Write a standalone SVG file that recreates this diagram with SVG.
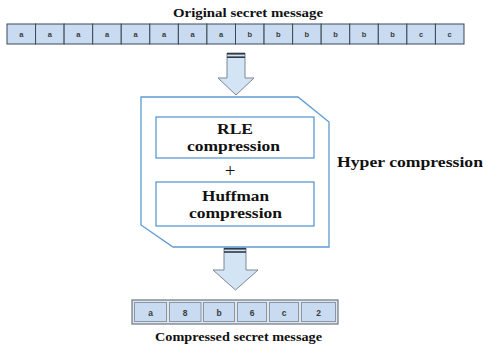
<svg xmlns="http://www.w3.org/2000/svg" width="483" height="347" viewBox="0 0 483 347">
  <style>
    .title { font-family: "Liberation Serif", "Times New Roman", serif; font-weight: bold; fill: #111; }
    .cell { fill: #c8dbf0; stroke: #3d4856; stroke-width: 1; }
    .cell2 { fill: #c8dbf0; stroke: #8a96a3; stroke-width: 1; }
    .ctext { font-family: "Liberation Sans", Arial, sans-serif; font-weight: bold; font-size: 7.5px; fill: #3a3a3a; text-anchor: middle; }
    .ctext2 { font-family: "Liberation Sans", Arial, sans-serif; font-weight: bold; font-size: 8.5px; fill: #3a3a3a; text-anchor: middle; }
    .box { fill: #fff; stroke: #5d9ad3; stroke-width: 1.3; }
    .btext { font-family: "Liberation Serif", "Times New Roman", serif; font-weight: bold; font-size: 14px; fill: #111; text-anchor: middle; }
    .plus { font-family: "Liberation Serif", "Times New Roman", serif; font-size: 19px; fill: #111; text-anchor: middle; }
    .arrow { fill: #d3e4f5; stroke: #7d8895; stroke-width: 1; }
    .band { fill: #2f3a45; }
  </style>

  <rect width="483" height="347" fill="#ffffff"/>

  <!-- input message -->
  <g id="original-message">
    <text class="title" x="248" y="17" font-size="12.5" text-anchor="middle" textLength="150" lengthAdjust="spacingAndGlyphs">Original secret message</text>
    <g id="original-cells">
      <rect class="cell" x="7" y="24" width="28.56" height="20"/>
      <rect class="cell" x="35.56" y="24" width="28.56" height="20"/>
      <rect class="cell" x="64.12" y="24" width="28.56" height="20"/>
      <rect class="cell" x="92.68" y="24" width="28.56" height="20"/>
      <rect class="cell" x="121.25" y="24" width="28.56" height="20"/>
      <rect class="cell" x="149.81" y="24" width="28.56" height="20"/>
      <rect class="cell" x="178.37" y="24" width="28.56" height="20"/>
      <rect class="cell" x="206.93" y="24" width="28.56" height="20"/>
      <rect class="cell" x="235.5" y="24" width="28.56" height="20"/>
      <rect class="cell" x="264.06" y="24" width="28.56" height="20"/>
      <rect class="cell" x="292.62" y="24" width="28.56" height="20"/>
      <rect class="cell" x="321.18" y="24" width="28.56" height="20"/>
      <rect class="cell" x="349.75" y="24" width="28.56" height="20"/>
      <rect class="cell" x="378.31" y="24" width="28.56" height="20"/>
      <rect class="cell" x="406.87" y="24" width="28.56" height="20"/>
      <rect class="cell" x="435.43" y="24" width="28.56" height="20"/>
      <text class="ctext" x="21.3" y="37">a</text>
      <text class="ctext" x="49.8" y="37">a</text>
      <text class="ctext" x="78.4" y="37">a</text>
      <text class="ctext" x="107" y="37">a</text>
      <text class="ctext" x="135.5" y="37">a</text>
      <text class="ctext" x="164.1" y="37">a</text>
      <text class="ctext" x="192.7" y="37">a</text>
      <text class="ctext" x="221.2" y="37">a</text>
      <text class="ctext" x="249.8" y="37">b</text>
      <text class="ctext" x="278.3" y="37">b</text>
      <text class="ctext" x="306.9" y="37">b</text>
      <text class="ctext" x="335.5" y="37">b</text>
      <text class="ctext" x="364" y="37">b</text>
      <text class="ctext" x="392.6" y="37">b</text>
      <text class="ctext" x="421.2" y="37">c</text>
      <text class="ctext" x="449.7" y="37">c</text>
    </g>
  </g>

  <!-- block arrows -->
  <g id="connectors">
    <path class="arrow" d="M227 53 H245 V78 H254 L236 95 L218 78 H227 Z"/>
    <rect class="band" x="227" y="53" width="18" height="1.6"/>
    <rect class="band" x="227" y="56.4" width="18" height="1.6"/>
    <path class="arrow" d="M224 248 H246 V270 H258 L235.5 290 L213 270 H224 Z"/>
    <rect class="band" x="224" y="248" width="22" height="1.6"/>
    <rect class="band" x="224" y="251.2" width="22" height="1.6"/>
  </g>

  <!-- compression stage -->
  <g id="hyper-compression">
    <polygon class="box" points="141,97 298,97 329,122 329,247 173,247 141,225"/>
    <text class="title" x="337" y="167" font-size="15" textLength="146" lengthAdjust="spacingAndGlyphs">Hyper compression</text>
  </g>

  <g id="rle">
    <rect class="box" x="156" y="117" width="158" height="41"/>
    <text class="btext" x="235" y="133.5" textLength="36" lengthAdjust="spacingAndGlyphs">RLE</text>
    <text class="btext" x="233.5" y="150.5" textLength="93" lengthAdjust="spacingAndGlyphs">compression</text>
  </g>

  <text class="plus" x="230" y="176.5">+</text>

  <g id="huffman">
    <rect class="box" x="156" y="182" width="158" height="44"/>
    <text class="btext" x="235.5" y="200.5" textLength="67" lengthAdjust="spacingAndGlyphs">Huffman</text>
    <text class="btext" x="235.5" y="217.5" textLength="93" lengthAdjust="spacingAndGlyphs">compression</text>
  </g>

  <!-- output message -->
  <g id="compressed-message">
    <rect x="132" y="300" width="206" height="24" fill="#dfe6ee" stroke="#6c7784" stroke-width="1.2"/>
    <rect class="cell2" x="134.5" y="302.5" width="32" height="19"/>
    <rect class="cell2" x="169.5" y="302.5" width="31.5" height="19"/>
    <rect class="cell2" x="203.5" y="302.5" width="31" height="19"/>
    <rect class="cell2" x="237.5" y="302.5" width="29" height="19"/>
    <rect class="cell2" x="269.5" y="302.5" width="29" height="19"/>
    <rect class="cell2" x="301.5" y="302.5" width="34" height="19"/>
    <text class="ctext2" x="150.5" y="315.5">a</text>
    <text class="ctext2" x="185" y="315.5">8</text>
    <text class="ctext2" x="219" y="315.5">b</text>
    <text class="ctext2" x="252" y="315.5">6</text>
    <text class="ctext2" x="284" y="315.5">c</text>
    <text class="ctext2" x="318.5" y="315.5">2</text>
    <text class="title" x="238.5" y="341" font-size="12.5" text-anchor="middle" textLength="167" lengthAdjust="spacingAndGlyphs">Compressed secret message</text>
  </g>
</svg>
